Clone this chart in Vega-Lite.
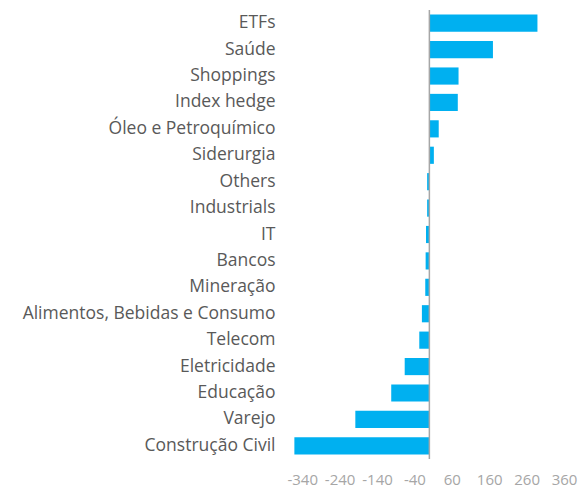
{
  "$schema": "https://vega.github.io/schema/vega-lite/v6.json",
  "autosize": "none",
  "width": 270,
  "height": 449,
  "padding": {"left": 294, "top": 10, "right": 23, "bottom": 34},
  "background": "white",
  "config": {"view": {"stroke": null}, "font": "Open Sans"},
  "data": {"values": [
    {"setor": "ETFs", "valor": 289},
    {"setor": "Saúde", "valor": 170},
    {"setor": "Shoppings", "valor": 78},
    {"setor": "Index hedge", "valor": 76},
    {"setor": "Óleo e Petroquímico", "valor": 25},
    {"setor": "Siderurgia", "valor": 12},
    {"setor": "Others", "valor": -6},
    {"setor": "Industrials", "valor": -6},
    {"setor": "IT", "valor": -9},
    {"setor": "Bancos", "valor": -10},
    {"setor": "Mineração", "valor": -11},
    {"setor": "Alimentos, Bebidas e Consumo", "valor": -20},
    {"setor": "Telecom", "valor": -27},
    {"setor": "Eletricidade", "valor": -66},
    {"setor": "Educação", "valor": -102},
    {"setor": "Varejo", "valor": -198},
    {"setor": "Construção Civil", "valor": -361}
  ]},
  "layer": [
    {
      "mark": {"type": "bar", "color": "#00B0F0"},
      "encoding": {
        "y": {"field": "setor", "type": "nominal", "sort": null,
          "scale": {"paddingInner": 0.35, "paddingOuter": 0.175},
          "axis": {"title": null, "ticks": false, "domain": false, "labelFontSize": 17.5, "labelColor": "#595959", "labelPadding": 19, "labelLimit": 300, "labelFont": "Open Sans"}},
        "x": {"field": "valor", "type": "quantitative",
          "scale": {"domain": [-362, 360], "nice": false, "zero": false},
          "axis": {"title": null, "values": [-340, -240, -140, -40, 60, 160, 260, 360], "labelExpr": "'' + datum.value", "labelOverlap": false, "labelFlush": false, "labelBound": false, "grid": false, "ticks": false, "domain": false, "labelFontSize": 15, "labelColor": "#a6a6a6", "labelPadding": 13, "labelFont": "Open Sans"}}
      }
    },
    {
      "data": {"values": [{"z": 0}]},
      "mark": {"type": "rule", "color": "#a6a6a6", "strokeWidth": 1.5},
      "encoding": {"x": {"field": "z", "type": "quantitative",
          "axis": {"title": null, "values": [-340, -240, -140, -40, 60, 160, 260, 360], "labelExpr": "'' + datum.value", "labelOverlap": false, "labelFlush": false, "labelBound": false, "grid": false, "ticks": false, "domain": false, "labelFontSize": 15, "labelColor": "#a6a6a6", "labelPadding": 13, "labelFont": "Open Sans"}}}
    }
  ]
}
